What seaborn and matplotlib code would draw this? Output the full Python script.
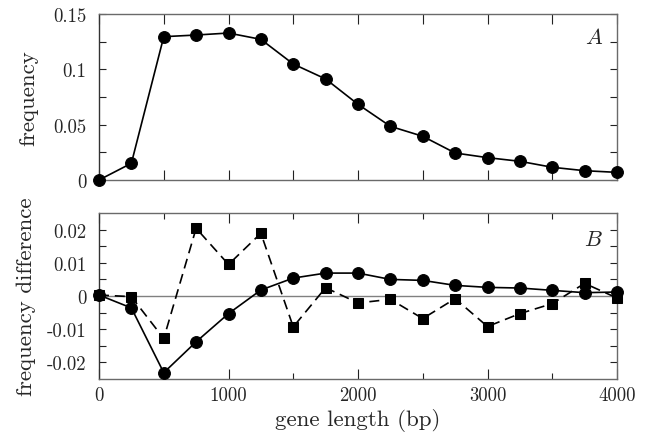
import numpy as np
import pandas as pd
import matplotlib
matplotlib.use("Agg")
import matplotlib.pyplot as plt
import seaborn as sns

# gene length bins (bp)
gene_length = [0, 250, 500, 750, 1000, 1250, 1500, 1750, 2000,
               2250, 2500, 2750, 3000, 3250, 3500, 3750, 4000]

# panel A: frequency of genes per length bin
frequency = [0.0, 0.0151, 0.1295, 0.1310, 0.1328, 0.1271, 0.1048, 0.0913,
             0.0684, 0.0485, 0.0395, 0.0244, 0.0202, 0.0169, 0.0115,
             0.0084, 0.0069]

# panel B: frequency differences
diff_circles = [0.0003, -0.0036, -0.0231, -0.0138, -0.0053, 0.0018, 0.0054,
                0.0069, 0.0069, 0.0050, 0.0047, 0.0032, 0.0026, 0.0024,
                0.0017, 0.0010, 0.0012]
diff_squares = [0.0003, -0.0002, -0.0128, 0.0204, 0.0095, 0.0189, -0.0093,
                0.0025, -0.0021, -0.0010, -0.0068, -0.0008, -0.0092,
                -0.0053, -0.0023, 0.0038, -0.0006]

x_ticks = [0, 1000, 2000, 3000, 4000]
x_ticklabels = ["0", "1000", "2000", "3000", "4000"]
a_ticks = [0, 0.05, 0.1, 0.15]
a_ticklabels = ["0", "0.05", "0.1", "0.15"]
b_ticks = [-0.02, -0.01, 0, 0.01, 0.02]
b_ticklabels = ["-0.02", "-0.01", "0", "0.01", "0.02"]

sns.set_style("ticks")
plt.rcParams["font.family"] = ["cmr10", "DejaVu Serif"]
plt.rcParams["mathtext.fontset"] = "cm"
plt.rcParams["axes.unicode_minus"] = False
plt.rcParams["axes.formatter.use_mathtext"] = True

df_a = pd.DataFrame({"len": gene_length, "freq": frequency})
df_b = pd.DataFrame({"len": gene_length, "c": diff_circles, "s": diff_squares})

fig = plt.figure(figsize=(6.49, 4.35), dpi=100)
W, H = 649, 435
def box(l, t, r, b):
    return [l / W, 1 - b / H, (r - l) / W, (b - t) / H]

ax_a = fig.add_axes(box(99, 15, 617, 181))
ax_b = fig.add_axes(box(99, 214, 617, 380))

spine_col = "#6a6a6a"
tick_col = "#222222"
for ax in (ax_a, ax_b):
    for s in ax.spines.values():
        s.set_color(spine_col)
        s.set_linewidth(1.0)
    ax.spines["left"].set_color("#333333")
    ax.set_xlim(0, 4000)
    ax.set_xticks(x_ticks)
    ax.set_xticks(np.arange(500, 4000, 1000), minor=True)
    ax.tick_params(axis="both", which="both", direction="in", top=True,
                   right=True, color=tick_col, width=0.8, labelsize=13.5)
    ax.tick_params(axis="x", which="major", length=7.5, pad=5)
    ax.tick_params(axis="y", which="both", length=5, pad=9)

# panel A
sns.lineplot(data=df_a, x="len", y="freq", ax=ax_a, color="black",
             marker="o", markersize=8.5, markeredgecolor="black",
             linewidth=1.2, clip_on=False, zorder=5)
ax_a.set_ylim(0, 0.15)
ax_a.set_yticks(a_ticks)
ax_a.set_yticklabels(a_ticklabels)
ax_a.set_yticks(np.arange(0.025, 0.15, 0.05), minor=True)
ax_a.tick_params(axis="x", which="minor", length=7.5)
ax_a.set_xticklabels([])
ax_a.set_xlabel("")
ax_a.set_ylabel("frequency", fontsize=16.5, labelpad=11)
ax_a.text(0.955, 0.86, r"$A$", transform=ax_a.transAxes, fontsize=16,
          ha="center", va="center")

# panel B
ax_b.axhline(0, color="#808080", linewidth=1.0, zorder=1)
sns.lineplot(data=df_b, x="len", y="s", ax=ax_b, color="black",
             marker="s", markersize=7, markeredgecolor="black",
             linewidth=1.2, linestyle=(0, (6, 3.5)), dashes=False,
             clip_on=False, zorder=5)
sns.lineplot(data=df_b, x="len", y="c", ax=ax_b, color="black",
             marker="o", markersize=8.5, markeredgecolor="black",
             linewidth=1.2, clip_on=False, zorder=6)
ax_b.set_ylim(-0.025, 0.025)
ax_b.set_yticks(b_ticks)
ax_b.set_yticklabels(b_ticklabels)
ax_b.set_yticks(np.arange(-0.015, 0.02, 0.01), minor=True)
ax_b.tick_params(axis="x", which="minor", length=4)
ax_b.set_xticklabels(x_ticklabels)
ax_b.set_xlabel("gene length (bp)", fontsize=16.5, labelpad=3)
ax_b.set_ylabel("frequency difference", fontsize=16.5, labelpad=8)
ax_b.text(0.955, 0.84, r"$B$", transform=ax_b.transAxes, fontsize=16,
          ha="center", va="center")

fig.savefig("out.png", dpi=100)
